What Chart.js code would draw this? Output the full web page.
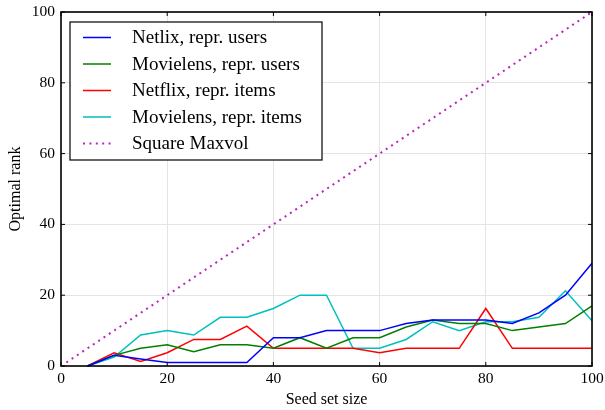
<!DOCTYPE html>
<html>
<head>
<meta charset="utf-8">
<script src="https://cdn.jsdelivr.net/npm/chart.js@4/dist/chart.umd.min.js"></script>
<style>
  html, body { margin: 0; padding: 0; background: #fff; }
  #wrap { width: 605px; height: 410px; position: relative; }
</style>
</head>
<body>
<div id="wrap"><canvas id="c" width="605" height="410"></canvas></div>
<script>
// ---- data ----
const seedSizes = [5, 10, 15, 20, 25, 30, 35, 40, 45, 50, 55, 60, 65, 70, 75, 80, 85, 90, 95, 100];
const netflixUsers   = [0, 3, 2, 1, 1, 1, 1, 8, 8, 10, 10, 10, 12, 13, 13, 13, 12, 15, 20, 29];
const movielensUsers = [0, 3, 5, 6, 4, 6, 6, 5, 8, 5, 8, 8, 11, 13, 12, 12, 10, 11, 12, 17];
const netflixItems   = [0, 3.75, 1.25, 3.75, 7.5, 7.5, 11.25, 5, 5, 5, 5, 3.75, 5, 5, 5, 16.25, 5, 5, 5, 5];
const movielensItems = [0, 2.5, 8.75, 10, 8.75, 13.75, 13.75, 16.25, 20, 20, 5, 5, 7.5, 12.5, 10, 12.5, 12.5, 13.75, 21.25, 12.75];
const maxvolX = [1, 100];
const maxvolY = [1, 100];
const seriesLabels = ["Netlix, repr. users", "Movielens, repr. users", "Netflix, repr. items", "Movielens, repr. items", "Square Maxvol"];
const tickValues = [0, 20, 40, 60, 80, 100];
const xTitle = "Seed set size";
const yTitle = "Optimal rank";

const SERIF = "'Liberation Serif', 'Times New Roman', serif";

function pts(xs, ys) { return xs.map((x, i) => ({ x: x, y: ys[i] })); }

const colors = ["#0000ff", "#008000", "#ff0000", "#00bfbf", "#c020c0"];
const seriesData = [
  pts(seedSizes, netflixUsers),
  pts(seedSizes, movielensUsers),
  pts(seedSizes, netflixItems),
  pts(seedSizes, movielensItems),
  pts(maxvolX, maxvolY)
];

const datasets = seriesData.map((d, i) => ({
  label: seriesLabels[i],
  data: d,
  borderColor: colors[i],
  backgroundColor: colors[i],
  borderWidth: i === 4 ? 2 : 1.5,
  borderDash: i === 4 ? [2, 4.4] : [],
  pointRadius: 0,
  tension: 0,
  fill: false,
  clip: 2
}));

const framePlugin = {
  id: 'frame',
  afterDatasetsDraw(chart) {
    const { ctx, chartArea: a, scales } = chart;
    ctx.save();
    ctx.strokeStyle = '#000';
    ctx.lineWidth = 1;
    const tl = 4;
    tickValues.forEach(v => {
      const px = scales.x.getPixelForValue(v);
      const py = scales.y.getPixelForValue(v);
      ctx.beginPath();
      ctx.moveTo(px, a.bottom); ctx.lineTo(px, a.bottom - tl);
      ctx.moveTo(px, a.top); ctx.lineTo(px, a.top + tl);
      ctx.moveTo(a.left, py); ctx.lineTo(a.left + tl, py);
      ctx.moveTo(a.right, py); ctx.lineTo(a.right - tl, py);
      ctx.stroke();
    });
    ctx.lineWidth = 1.6;
    ctx.strokeRect(a.left, a.top, a.right - a.left, a.bottom - a.top);
    ctx.restore();
  },
  afterDraw(chart) {
    const { ctx } = chart;
    const bx = 70, by = 22, bw = 252, bh = 138;
    ctx.save();
    ctx.fillStyle = '#fff';
    ctx.fillRect(bx, by, bw, bh);
    ctx.strokeStyle = '#000';
    ctx.lineWidth = 1.2;
    ctx.strokeRect(bx, by, bw, bh);
    ctx.font = "19px " + SERIF;
    ctx.textBaseline = 'middle';
    ctx.textAlign = 'left';
    chart.data.datasets.forEach((ds, i) => {
      const y = 37.5 + i * 26.5;
      ctx.beginPath();
      ctx.strokeStyle = ds.borderColor;
      ctx.lineWidth = ds.borderWidth;
      ctx.setLineDash(ds.borderDash);
      ctx.moveTo(83, y); ctx.lineTo(111, y);
      ctx.stroke();
      ctx.setLineDash([]);
      ctx.fillStyle = '#000';
      ctx.fillText(ds.label, 132, y + 1);
    });
    ctx.restore();
  }
};

new Chart(document.getElementById('c'), {
  type: 'line',
  data: { datasets: datasets },
  options: {
    responsive: false,
    animation: false,
    events: [],
    layout: { padding: { left: 0, right: 13, top: 12, bottom: 0 } },
    plugins: { legend: { display: false }, tooltip: { enabled: false } },
    scales: {
      x: {
        type: 'linear', min: 0, max: 100,
        afterBuildTicks(s) { s.ticks = tickValues.map(v => ({ value: v })); },
        afterFit(s) { s.height = 44; s.paddingLeft = 0; s.paddingRight = 0; },
        ticks: { color: '#000', font: { family: SERIF, size: 15.5 }, padding: 4, maxRotation: 0 },
        grid: { color: '#e4e4e4', lineWidth: 1, drawTicks: false },
        border: { display: false },
        title: { display: true, text: xTitle, color: '#000', font: { family: SERIF, size: 16 }, padding: { top: 0, bottom: 1 } }
      },
      y: {
        type: 'linear', min: 0, max: 100,
        afterBuildTicks(s) { s.ticks = tickValues.map(v => ({ value: v })); },
        afterFit(s) { s.width = 61; s.paddingTop = 0; s.paddingBottom = 0; },
        ticks: { color: '#000', font: { family: SERIF, size: 15.5 }, padding: 6 },
        grid: { color: '#e4e4e4', lineWidth: 1, drawTicks: false },
        border: { display: false },
        title: { display: true, text: yTitle, color: '#000', font: { family: SERIF, size: 16 }, padding: { top: 6, bottom: 0 } }
      }
    }
  },
  plugins: [framePlugin]
});
</script>
</body>
</html>
